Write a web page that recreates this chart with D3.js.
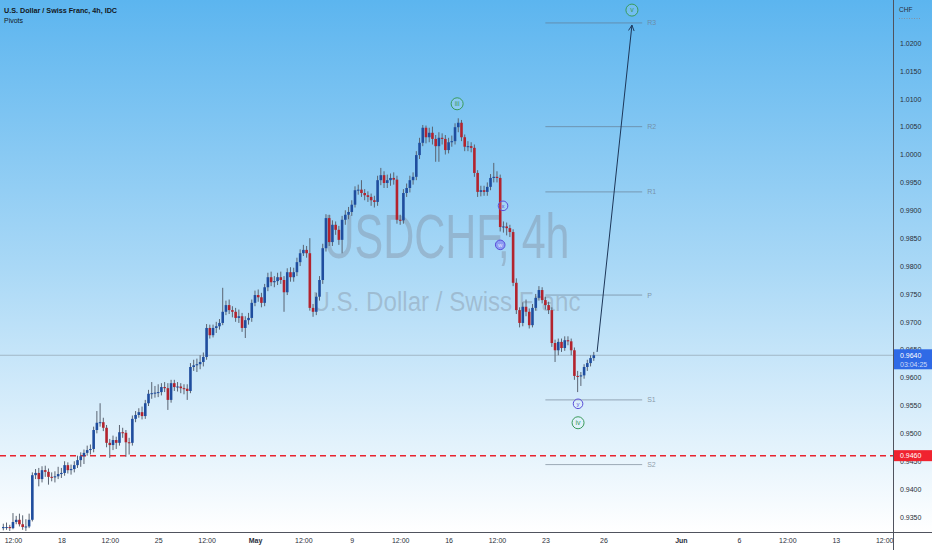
<!DOCTYPE html>
<html><head><meta charset="utf-8">
<script src="https://cdn.jsdelivr.net/npm/d3@7"></script>
<style>body{margin:0;background:#fff;overflow:hidden}svg{display:block}</style>
</head><body><svg id="c" width="932" height="550"></svg>
<script>
// ---------- DATA ----------
const tradingDays = ["2022-04-13","2022-04-14","2022-04-15","2022-04-18","2022-04-19","2022-04-20","2022-04-21","2022-04-22",
"2022-04-25","2022-04-26","2022-04-27","2022-04-28","2022-04-29","2022-05-02","2022-05-03","2022-05-04","2022-05-05","2022-05-06",
"2022-05-09","2022-05-10","2022-05-11","2022-05-12","2022-05-13","2022-05-16","2022-05-17","2022-05-18","2022-05-19","2022-05-20",
"2022-05-23","2022-05-24","2022-05-25","2022-05-26","2022-05-27","2022-05-30","2022-05-31","2022-06-01","2022-06-02","2022-06-03",
"2022-06-06","2022-06-07","2022-06-08","2022-06-09","2022-06-10","2022-06-13","2022-06-14","2022-06-15","2022-06-16","2022-06-17"];
const barsPerDay = 6; // 4h candles

const opens = [0.9330,0.9332,0.9332,0.9330,0.9341,0.9345,0.9337,0.9332,0.9333,0.9345,
0.9425,0.9429,0.9418,0.9434,0.9431,0.9422,0.9421,0.9423,0.9427,0.9429,
0.9443,0.9434,0.9436,0.9443,0.9452,0.9459,0.9465,0.9470,0.9472,0.9506,
0.9519,0.9520,0.9510,0.9483,0.9479,0.9488,0.9483,0.9502,0.9501,0.9484,
0.9483,0.9526,0.9533,0.9538,0.9531,0.9554,0.9571,0.9572,0.9573,0.9574,
0.9583,0.9581,0.9560,0.9590,0.9583,0.9584,0.9581,0.9580,0.9576,0.9619,
0.9622,0.9624,0.9628,0.9637,0.9689,0.9676,0.9689,0.9692,0.9698,0.9718,
0.9730,0.9721,0.9718,0.9707,0.9710,0.9689,0.9703,0.9707,0.9734,0.9748,
0.9744,0.9734,0.9762,0.9780,0.9771,0.9773,0.9780,0.9775,0.9753,0.9789,
0.9780,0.9789,0.9807,0.9823,0.9829,0.9823,0.9725,0.9718,0.9745,0.9775,
0.9832,0.9886,0.9843,0.9874,0.9865,0.9847,0.9883,0.9892,0.9897,0.9910,
0.9936,0.9937,0.9931,0.9927,0.9924,0.9918,0.9915,0.9954,0.9963,0.9949,
0.9954,0.9958,0.9955,0.9883,0.9882,0.9931,0.9940,0.9954,0.9960,0.9999,
1.0021,1.0048,1.0031,1.0039,1.0028,1.0015,1.0030,1.0028,1.0008,1.0022,
1.0024,1.0049,1.0057,1.0031,1.0014,1.0015,1.0012,0.9967,0.9933,0.9936,
0.9933,0.9942,0.9958,0.9960,0.9958,0.9870,0.9871,0.9868,0.9861,0.9770,
0.9721,0.9698,0.9727,0.9718,0.9694,0.9725,0.9743,0.9757,0.9739,0.9730,
0.9721,0.9662,0.9649,0.9664,0.9653,0.9667,0.9665,0.9649,0.9603,0.9602,
0.9604,0.9619,0.9626,0.9635];
const highs = [0.9338,0.9340,0.9336,0.9357,0.9352,0.9356,0.9353,0.9346,0.9356,0.9430,
0.9436,0.9438,0.9441,0.9442,0.9437,0.9430,0.9432,0.9440,0.9438,0.9450,
0.9448,0.9444,0.9450,0.9460,0.9466,0.9471,0.9478,0.9480,0.9512,0.9540,
0.9554,0.9528,0.9515,0.9490,0.9496,0.9494,0.9515,0.9510,0.9506,0.9492,
0.9532,0.9540,0.9545,0.9548,0.9560,0.9578,0.9592,0.9585,0.9588,0.9590,
0.9592,0.9590,0.9596,0.9596,0.9592,0.9590,0.9588,0.9588,0.9626,0.9632,
0.9634,0.9640,0.9645,0.9696,0.9695,0.9695,0.9700,0.9705,0.9761,0.9738,
0.9740,0.9728,0.9725,0.9722,0.9716,0.9710,0.9716,0.9740,0.9756,0.9758,
0.9752,0.9768,0.9788,0.9790,0.9782,0.9788,0.9790,0.9782,0.9796,0.9798,
0.9797,0.9815,0.9830,0.9838,0.9836,0.9850,0.9732,0.9752,0.9782,0.9840,
0.9893,0.9892,0.9882,0.9880,0.9872,0.9890,0.9900,0.9906,0.9918,0.9943,
0.9946,0.9954,0.9938,0.9934,0.9930,0.9926,0.9962,0.9976,0.9970,0.9964,
0.9966,0.9968,0.9962,0.9892,0.9938,0.9948,0.9962,0.9968,1.0006,1.0030,
1.0053,1.0052,1.0048,1.0050,1.0035,1.0040,1.0038,1.0035,1.0030,1.0034,
1.0056,1.0065,1.0062,1.0036,1.0024,1.0022,1.0018,0.9972,0.9944,0.9944,
0.9950,0.9965,0.9985,0.9970,0.9964,0.9880,0.9878,0.9874,0.9866,0.9778,
0.9726,0.9735,0.9740,0.9724,0.9732,0.9750,0.9764,0.9762,0.9745,0.9736,
0.9726,0.9668,0.9670,0.9670,0.9674,0.9674,0.9670,0.9654,0.9612,0.9610,
0.9624,0.9632,0.9640,0.9646];
const lows = [0.9326,0.9327,0.9325,0.9328,0.9337,0.9333,0.9327,0.9325,0.9330,0.9342,
0.9418,0.9405,0.9412,0.9422,0.9408,0.9414,0.9412,0.9418,0.9420,0.9424,
0.9428,0.9426,0.9430,0.9438,0.9440,0.9445,0.9460,0.9462,0.9466,0.9500,
0.9512,0.9504,0.9475,0.9456,0.9470,0.9472,0.9478,0.9492,0.9458,0.9462,
0.9478,0.9520,0.9528,0.9525,0.9526,0.9549,0.9562,0.9564,0.9565,0.9568,
0.9574,0.9542,0.9555,0.9576,0.9575,0.9572,0.9570,0.9560,0.9572,0.9612,
0.9610,0.9615,0.9620,0.9632,0.9670,0.9672,0.9680,0.9686,0.9694,0.9712,
0.9714,0.9708,0.9700,0.9698,0.9682,0.9671,0.9695,0.9700,0.9728,0.9736,
0.9726,0.9728,0.9755,0.9764,0.9762,0.9766,0.9768,0.9718,0.9748,0.9772,
0.9772,0.9782,0.9800,0.9818,0.9815,0.9720,0.9709,0.9712,0.9738,0.9768,
0.9826,0.9836,0.9836,0.9856,0.9838,0.9823,0.9874,0.9884,0.9890,0.9905,
0.9928,0.9924,0.9918,0.9915,0.9908,0.9905,0.9908,0.9945,0.9940,0.9940,
0.9944,0.9946,0.9876,0.9874,0.9876,0.9924,0.9932,0.9946,0.9954,0.9992,
1.0015,1.0020,1.0022,1.0018,0.9987,0.9987,1.0018,1.0000,1.0002,1.0014,
1.0018,1.0040,1.0024,1.0006,1.0006,1.0004,0.9960,0.9924,0.9925,0.9926,
0.9926,0.9936,0.9950,0.9950,0.9862,0.9860,0.9855,0.9852,0.9764,0.9714,
0.9690,0.9692,0.9710,0.9688,0.9690,0.9720,0.9738,0.9733,0.9722,0.9714,
0.9655,0.9628,0.9640,0.9646,0.9648,0.9658,0.9640,0.9596,0.9574,0.9585,
0.9598,0.9612,0.9620,0.9630];
const closes = [0.9332,0.9332,0.9330,0.9341,0.9345,0.9337,0.9332,0.9333,0.9345,0.9425,
0.9429,0.9418,0.9434,0.9431,0.9422,0.9421,0.9423,0.9427,0.9429,0.9443,
0.9434,0.9436,0.9443,0.9452,0.9459,0.9465,0.9470,0.9472,0.9506,0.9519,
0.9520,0.9510,0.9483,0.9479,0.9488,0.9483,0.9502,0.9501,0.9484,0.9483,
0.9526,0.9533,0.9538,0.9531,0.9554,0.9571,0.9572,0.9573,0.9574,0.9583,
0.9581,0.9560,0.9590,0.9583,0.9584,0.9581,0.9580,0.9576,0.9619,0.9622,
0.9624,0.9628,0.9637,0.9689,0.9676,0.9689,0.9692,0.9698,0.9718,0.9730,
0.9721,0.9718,0.9707,0.9710,0.9689,0.9703,0.9707,0.9734,0.9748,0.9744,
0.9734,0.9762,0.9780,0.9771,0.9773,0.9780,0.9775,0.9753,0.9789,0.9780,
0.9789,0.9807,0.9823,0.9829,0.9823,0.9725,0.9718,0.9745,0.9775,0.9832,
0.9886,0.9843,0.9874,0.9865,0.9847,0.9883,0.9892,0.9897,0.9910,0.9936,
0.9937,0.9931,0.9927,0.9924,0.9918,0.9915,0.9954,0.9963,0.9949,0.9954,
0.9958,0.9955,0.9883,0.9882,0.9931,0.9940,0.9954,0.9960,0.9999,1.0021,
1.0048,1.0031,1.0039,1.0028,1.0015,1.0030,1.0028,1.0008,1.0022,1.0024,
1.0049,1.0057,1.0031,1.0014,1.0015,1.0012,0.9967,0.9933,0.9936,0.9933,
0.9942,0.9958,0.9960,0.9958,0.9870,0.9871,0.9868,0.9861,0.9770,0.9721,
0.9698,0.9727,0.9718,0.9694,0.9725,0.9743,0.9757,0.9739,0.9730,0.9721,
0.9662,0.9649,0.9664,0.9653,0.9667,0.9665,0.9649,0.9603,0.9602,0.9604,
0.9619,0.9626,0.9635,0.9640];

const yTicks = [0.9350,0.9400,0.9450,0.9500,0.9550,0.9600,0.9650,0.9700,0.9750,0.9800,0.9850,0.9900,0.9950,1.0000,1.0050,1.0100,1.0150,1.0200];
const xTicks = [
  {day:"2022-04-13",hour:12,label:"12:00"},{day:"2022-04-18",hour:0,label:"18"},
  {day:"2022-04-20",hour:12,label:"12:00"},{day:"2022-04-25",hour:0,label:"25"},
  {day:"2022-04-27",hour:12,label:"12:00"},{day:"2022-05-02",hour:0,label:"May",bold:true},
  {day:"2022-05-04",hour:12,label:"12:00"},{day:"2022-05-09",hour:0,label:"9"},
  {day:"2022-05-11",hour:12,label:"12:00"},{day:"2022-05-16",hour:0,label:"16"},
  {day:"2022-05-18",hour:12,label:"12:00"},{day:"2022-05-23",hour:0,label:"23"},
  {day:"2022-05-26",hour:0,label:"26"},{day:"2022-06-01",hour:0,label:"Jun",bold:true},
  {day:"2022-06-06",hour:0,label:"6"},{day:"2022-06-08",hour:12,label:"12:00"},
  {day:"2022-06-13",hour:0,label:"13"},{day:"2022-06-15",hour:12,label:"12:00"}];

const pivotNames = ["R3","R2","R1","P","S1","S2"];
const pivotValues = [1.0236,1.0050,0.9933,0.9748,0.9560,0.9444];
const pivotSpan = {from:"2022-05-23", to:"2022-05-30"};

const supportLevel = 0.9460;
const lastPrice = 0.9640;
const countdown = "03:04:25";

const waveLabels = [
  {text:"iii", day:"2022-05-16", hour:10.6, price:1.0091, kind:"major"},
  {text:"x",   day:"2022-05-18", hour:19.5, price:0.9908, kind:"minor"},
  {text:"w",   day:"2022-05-18", hour:16.0, price:0.9838, kind:"minorFill"},
  {text:"y",   day:"2022-05-24", hour:16.5, price:0.9553, kind:"minor"},
  {text:"iv",  day:"2022-05-24", hour:16.5, price:0.9519, kind:"major"},
  {text:"v",   day:"2022-05-27", hour:11.3, price:1.0259, kind:"major"}];
const projection = {from:{day:"2022-05-25", hour:16.1, price:0.9646}, to:{day:"2022-05-27", hour:11.3, price:1.0232}};

// ---------- SCALES ----------
const W = 932, H = 550, plotR = 893, plotB = 532;
const dayIdx = d => tradingDays.indexOf(d);
const tpos = (d, h) => dayIdx(d) + h / 24;
const x = d3.scaleLinear().domain([0, 46]).range([3.3, 3.3 + 46 * 19.36]);
const y = d3.scaleLinear().domain([0.935, 1.02]).range([517, 43]);
const barPos = i => Math.floor(i / barsPerDay) + (i % barsPerDay) / barsPerDay;

const svg = d3.select("#c");
const FONT = "'Liberation Sans', Arial, sans-serif";

// background gradient
const defs = svg.append("defs");
const g0 = defs.append("linearGradient").attr("id","bg").attr("x1",0).attr("y1",0).attr("x2",0).attr("y2",1);
g0.append("stop").attr("offset","0%").attr("stop-color","#5cb5ef");
g0.append("stop").attr("offset","50%").attr("stop-color","#a9d8f6");
g0.append("stop").attr("offset","100%").attr("stop-color","#ffffff");
defs.append("clipPath").attr("id","plot").append("rect").attr("x",0).attr("y",0).attr("width",plotR).attr("height",plotB);
const mk = defs.append("marker").attr("id","arr").attr("viewBox","0 0 10 10").attr("refX",9).attr("refY",5)
  .attr("markerWidth",7).attr("markerHeight",7).attr("orient","auto").attr("markerUnits","userSpaceOnUse");
mk.append("path").attr("d","M1,1 L9,5 L1,9").attr("fill","none").attr("stroke","#1d3658").attr("stroke-width",1.3);

svg.append("rect").attr("width",W).attr("height",plotB).attr("fill","url(#bg)");
svg.append("rect").attr("y",plotB).attr("width",W).attr("height",H-plotB).attr("fill","#ffffff");

// watermark
const cx = plotR / 2;
svg.append("text").attr("x",cx).attr("y",258).attr("text-anchor","middle")
  .attr("font-family",FONT).attr("font-size",63).attr("fill","rgba(125,135,150,0.38)")
  .attr("textLength",246).attr("lengthAdjust","spacingAndGlyphs").text("USDCHF, 4h");
svg.append("text").attr("x",cx).attr("y",311).attr("text-anchor","middle")
  .attr("font-family",FONT).attr("font-size",27).attr("fill","rgba(125,135,150,0.38)")
  .attr("textLength",268).attr("lengthAdjust","spacingAndGlyphs").text("U.S. Dollar / Swiss Franc");

const plot = svg.append("g").attr("clip-path","url(#plot)");

// pivots
const pv = plot.append("g");
pivotValues.forEach((v, k) => {
  pv.append("line").attr("x1",x(dayIdx(pivotSpan.from))).attr("x2",x(dayIdx(pivotSpan.to)))
    .attr("y1",y(v)).attr("y2",y(v)).attr("stroke","rgba(95,110,125,0.55)").attr("stroke-width",1);
  pv.append("text").attr("x",x(dayIdx(pivotSpan.to))+5).attr("y",y(v)+2.5)
    .attr("font-family",FONT).attr("font-size",7).attr("fill","rgba(110,125,140,0.75)").text(pivotNames[k]);
});

// last price line
plot.append("line").attr("x1",0).attr("x2",plotR).attr("y1",y(lastPrice)).attr("y2",y(lastPrice))
  .attr("stroke","rgba(120,130,140,0.45)").attr("stroke-width",1);

// support dashed line
plot.append("line").attr("x1",0).attr("x2",plotR).attr("y1",y(supportLevel)).attr("y2",y(supportLevel))
  .attr("stroke","#e8232f").attr("stroke-width",1.5).attr("stroke-dasharray","6,4");

// candles
const candles = closes.map((c, i) => ({i, o:opens[i], h:highs[i], l:lows[i], c}));
const cg = plot.append("g");
cg.selectAll("line.w").data(candles).join("line").attr("class","w")
  .attr("x1",d => x(barPos(d.i))).attr("x2",d => x(barPos(d.i)))
  .attr("y1",d => y(d.h)).attr("y2",d => y(d.l))
  .attr("stroke","#5a6472").attr("stroke-width",1);
cg.selectAll("rect.b").data(candles).join("rect").attr("class","b")
  .attr("x",d => x(barPos(d.i)) - 1.3).attr("width",2.6)
  .attr("y",d => y(Math.max(d.o, d.c)))
  .attr("height",d => Math.max(1, Math.abs(y(d.o) - y(d.c))))
  .attr("fill",d => d.c >= d.o ? "#1f4d9e" : "#b3232d");

// projection arrow
plot.append("line")
  .attr("x1",x(tpos(projection.from.day,projection.from.hour))).attr("y1",y(projection.from.price))
  .attr("x2",x(tpos(projection.to.day,projection.to.hour))).attr("y2",y(projection.to.price))
  .attr("stroke","#1d3658").attr("stroke-width",1).attr("marker-end","url(#arr)");

// wave labels
const wl = plot.append("g");
waveLabels.forEach(w => {
  const px = x(tpos(w.day, w.hour)), py = y(w.price);
  const major = w.kind === "major";
  const col = major ? "#3a9b5c" : "#5a4fd8";
  wl.append("circle").attr("cx",px).attr("cy",py).attr("r",major ? 6 : 4.8)
    .attr("fill", w.kind === "minorFill" ? "rgba(120,110,240,0.55)" : "rgba(255,255,255,0.12)")
    .attr("stroke",col).attr("stroke-width",1);
  wl.append("text").attr("x",px).attr("y",py+2.3).attr("text-anchor","middle")
    .attr("font-family",FONT).attr("font-size",major ? 7 : 6).attr("fill", w.kind === "minorFill" ? "#e8e6ff" : col).text(w.text);
});

// title
svg.append("text").attr("x",4).attr("y",13).attr("font-family",FONT).attr("font-size",7.2)
  .attr("font-weight","bold").attr("fill","#131722").text("U.S. Dollar / Swiss Franc, 4h, IDC");
svg.append("text").attr("x",4).attr("y",23).attr("font-family",FONT).attr("font-size",7)
  .attr("fill","#131722").text("Pivots");

// axes
const yAxis = d3.axisRight(y).tickValues(yTicks).tickSize(0).tickSizeOuter(0).tickPadding(7)
  .tickFormat(d3.format(".4f"));
const ya = svg.append("g").attr("transform",`translate(${plotR},0)`).call(yAxis);
ya.select(".domain").remove();
ya.selectAll("text").attr("font-family",FONT).attr("font-size",7).attr("fill","#2a2e39");

const xAxis = d3.axisBottom(x).tickValues(xTicks.map(t => tpos(t.day, t.hour))).tickSize(0).tickSizeOuter(0)
  .tickPadding(6).tickFormat((d, i) => xTicks[i].label);
const xa = svg.append("g").attr("transform",`translate(0,${plotB})`).call(xAxis);
xa.select(".domain").remove();
xa.selectAll("text").attr("font-family",FONT).attr("font-size",7).attr("fill","#2a2e39")
  .attr("font-weight",(d, i) => xTicks[i].bold ? "bold" : "normal");

svg.append("line").attr("x1",0).attr("x2",W).attr("y1",plotB+0.5).attr("y2",plotB+0.5).attr("stroke","#50535e").attr("stroke-width",1);
svg.append("line").attr("x1",plotR+0.5).attr("x2",plotR+0.5).attr("y1",0).attr("y2",H).attr("stroke","#50535e").attr("stroke-width",1);

// currency label
svg.append("text").attr("x",899).attr("y",12).attr("font-family",FONT).attr("font-size",6.5).attr("fill","#2a2e39").text("CHF");
svg.append("line").attr("x1",899).attr("x2",921).attr("y1",18.5).attr("y2",18.5)
  .attr("stroke","#8090a0").attr("stroke-dasharray","1,1.5");

// price boxes
const by = y(lastPrice);
svg.append("rect").attr("x",plotR+1).attr("y",by-6).attr("width",W-plotR-1).attr("height",20).attr("fill","#2f6ae6");
svg.append("text").attr("x",plotR+7).attr("y",by+2.5).attr("font-family",FONT).attr("font-size",7).attr("fill","#ffffff").text(d3.format(".4f")(lastPrice));
svg.append("text").attr("x",plotR+7).attr("y",by+11.5).attr("font-family",FONT).attr("font-size",7).attr("fill","rgba(255,255,255,0.75)").text(countdown);
const ry = y(supportLevel);
svg.append("rect").attr("x",plotR+1).attr("y",ry-5.5).attr("width",W-plotR-1).attr("height",11).attr("fill","#f0232f");
svg.append("text").attr("x",plotR+7).attr("y",ry+2.5).attr("font-family",FONT).attr("font-size",7).attr("fill","#ffffff").text(d3.format(".4f")(supportLevel));
</script></body></html>
